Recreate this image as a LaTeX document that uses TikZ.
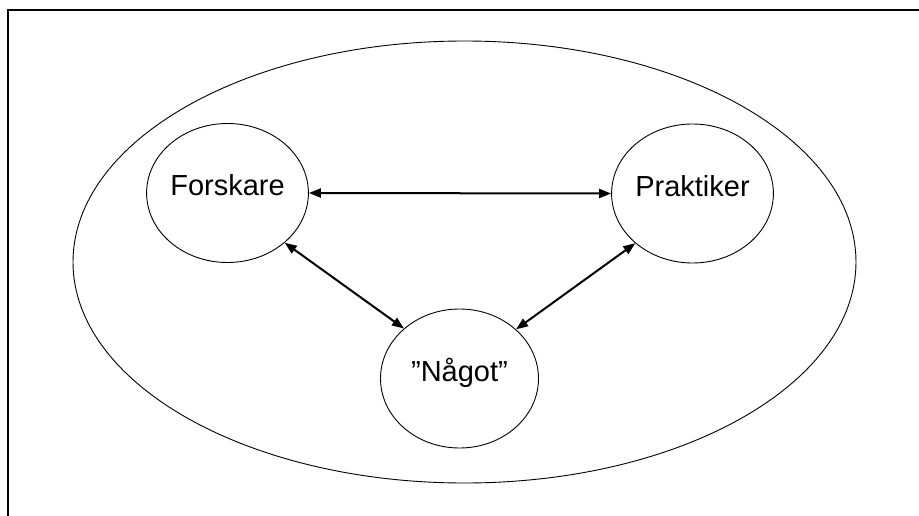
\documentclass[tikz,border=0pt]{standalone}
\usepackage{fontspec}
\setmainfont{Liberation Sans}
\usetikzlibrary{shapes.geometric,arrows.meta}

\tikzset{
  frameline/.style={line width=2.2pt, line join=miter},
  party/.style={ellipse, draw, line width=0.9pt, minimum width=158pt, minimum height=139pt,
    inner sep=0pt, font=\fontsize{29}{34}\selectfont, text height=21pt, text depth=15pt},
  link/.style={line width=2pt, {Triangle[length=12pt,width=9pt]}-{Triangle[length=12pt,width=9pt]}}
}

\begin{document}
\begin{tikzpicture}[x=1pt,y=-1pt]
  \useasboundingbox (0,0) rectangle (919,516);

  % open frame: top and left edges
  \draw[frameline] (919,10) -- (7.7,10) -- (7.7,516);

  % surrounding ellipse
  \node[ellipse, draw, line width=0.9pt, minimum width=783pt, minimum height=442pt, inner sep=0pt]
    (world) at (464.5,262) {};

  % the three parties
  \node[party] (F) at (227.5,193) {Forskare};
  \node[party] (P) at (692.5,193.5) {Praktiker};
  \node[party] (N) at (459.5,378.5) {”Något”\hspace{18pt}};

  % relations
  \draw[link] (F.east) -- (P.west);
  \draw[link] (F.-41.5) -- (N.138.3);
  \draw[link] (P.221.7) -- (N.41.7);
\end{tikzpicture}
\end{document}
